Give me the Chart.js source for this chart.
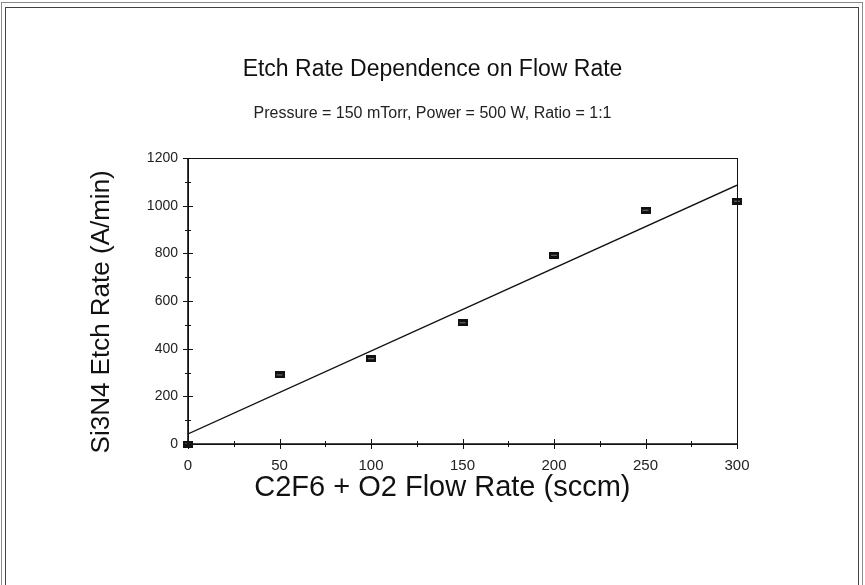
<!DOCTYPE html>
<html>
<head>
<meta charset="utf-8">
<script src="https://cdn.jsdelivr.net/npm/chart.js@4.4.1/dist/chart.umd.min.js"></script>
<style>
  html, body { margin: 0; padding: 0; background: #fff; }
  #wrap { position: relative; width: 865px; height: 585px; overflow: hidden; }
  #chart { position: absolute; left: 0; top: 0; }
  .frame { position: absolute; pointer-events: none; }
  #frame-outer { left: 1px; top: 2px; right: 2px; bottom: -20px; border: 1px solid #8a8a8a; }
  #frame-inner { left: 5px; top: 7px; right: 6px; bottom: -20px; border: 1px solid #444; }
</style>
</head>
<body>
<div id="wrap">
  <canvas id="chart" width="865" height="585"></canvas>
  <div class="frame" id="frame-outer"></div>
  <div class="frame" id="frame-inner"></div>
</div>
<script>
const flowRates = [0, 50, 100, 150, 200, 250, 300];
const etchRates = [0, 290, 358, 509, 792, 981, 1019];
const fitFlow = [0, 300];
const fitRate = [42, 1086];

const titleText = "Etch Rate Dependence on Flow Rate";
const subtitleText = "Pressure = 150 mTorr, Power = 500 W, Ratio = 1:1";
// trailing no-break spaces nudge the axis titles off the plot centre like the original
const xTitle = "C2F6 + O2 Flow Rate (sccm)\u00a0\u00a0\u00a0\u00a0\u00a0";
const yTitle = "Si3N4 Etch Rate (A/min)\u00a0\u00a0\u00a0";

const fontFamily = "'Liberation Sans', Arial, Helvetica, sans-serif";

// small black scanned-looking box marker
function makeMarker() {
  const c = document.createElement("canvas");
  c.width = 10;
  c.height = 7;
  const g = c.getContext("2d");
  g.fillStyle = "#111";
  g.fillRect(0, 0, 10, 7);
  g.fillStyle = "#777";
  g.fillRect(2, 3, 6, 1);
  return c;
}

// plot box + ticks that cross the axis lines
const frameTicks = {
  id: "frameTicks",
  afterDatasetsDraw(chart) {
    const { ctx, chartArea: a, scales } = chart;
    ctx.save();
    ctx.strokeStyle = "#111";
    ctx.lineWidth = 1;
    ctx.strokeRect(a.left + 0.5, a.top + 0.5, a.right - a.left, a.bottom - a.top);
    ctx.lineWidth = 1.6;
    ctx.beginPath();
    ctx.moveTo(a.left, a.top);
    ctx.lineTo(a.left, a.bottom);
    ctx.lineTo(a.right, a.bottom);
    ctx.stroke();

    ctx.lineWidth = 1;
    ctx.beginPath();
    scales.x.ticks.forEach(t => {
      const px = Math.round(scales.x.getPixelForValue(t.value)) + 0.5;
      const len = t.value % 50 === 0 ? 5 : 3;
      ctx.moveTo(px, a.bottom - len);
      ctx.lineTo(px, a.bottom + len);
    });
    scales.y.ticks.forEach(t => {
      const py = Math.round(scales.y.getPixelForValue(t.value)) + 0.5;
      const len = t.value % 200 === 0 ? 5 : 3;
      ctx.moveTo(a.left - len, py);
      ctx.lineTo(a.left + len, py);
    });
    ctx.stroke();
    ctx.restore();
  }
};

const ctx = document.getElementById("chart");

new Chart(ctx, {
  type: "scatter",
  data: {
    datasets: [
      {
        label: "Measured",
        data: flowRates.map((x, i) => ({ x, y: etchRates[i] })),
        pointStyle: makeMarker(),
        pointRadius: 5,
        clip: false
      },
      {
        type: "line",
        label: "Fit",
        data: fitFlow.map((x, i) => ({ x, y: fitRate[i] })),
        borderColor: "#111",
        borderWidth: 1.3,
        pointRadius: 0,
        fill: false
      }
    ]
  },
  plugins: [frameTicks],
  options: {
    responsive: false,
    animation: false,
    layout: {
      padding: { left: 0, right: 0, top: 0, bottom: 79.6 }
    },
    plugins: {
      legend: { display: false },
      tooltip: { enabled: false },
      title: {
        display: true,
        text: titleText,
        color: "#111",
        font: { family: fontFamily, size: 23, weight: "normal" },
        padding: { top: 56, bottom: 20 }
      },
      subtitle: {
        display: true,
        text: subtitleText,
        color: "#222",
        font: { family: fontFamily, size: 16 },
        padding: { top: 0, bottom: 35.2 }
      }
    },
    scales: {
      x: {
        type: "linear",
        min: 0,
        max: 300,
        border: { display: false },
        grid: { drawOnChartArea: false, drawTicks: false },
        ticks: {
          stepSize: 25,
          maxTicksLimit: 20,
          autoSkip: false,
          maxRotation: 0,
          padding: 12.6,
          color: "#222",
          font: { family: fontFamily, size: 15 },
          callback: v => (v % 50 === 0 ? v : "")
        },
        title: {
          display: true,
          text: xTitle,
          color: "#111",
          font: { family: fontFamily, size: 29 },
          padding: { top: 0, bottom: 0 }
        },
        afterFit(scale) {
          scale.height = 61.4;
        }
      },
      y: {
        type: "linear",
        min: 0,
        max: 1200,
        border: { display: false },
        grid: { drawOnChartArea: false, drawTicks: false },
        ticks: {
          stepSize: 100,
          maxTicksLimit: 20,
          autoSkip: false,
          padding: 10,
          color: "#222",
          font: { family: fontFamily, size: 14 },
          callback: v => (v % 200 === 0 ? v : "")
        },
        title: {
          display: true,
          text: yTitle,
          color: "#111",
          font: { family: fontFamily, size: 26 },
          padding: { top: 86, bottom: 0 }
        },
        afterFit(scale) {
          scale.width = 188;
        }
      },
      // empty spacer on the right so the titles stay centred on the page
      spacer: {
        type: "linear",
        position: "right",
        display: true,
        border: { display: false },
        grid: { display: false },
        ticks: { display: false },
        afterFit(scale) {
          scale.width = 128;
        }
      }
    }
  }
});
</script>
</body>
</html>
